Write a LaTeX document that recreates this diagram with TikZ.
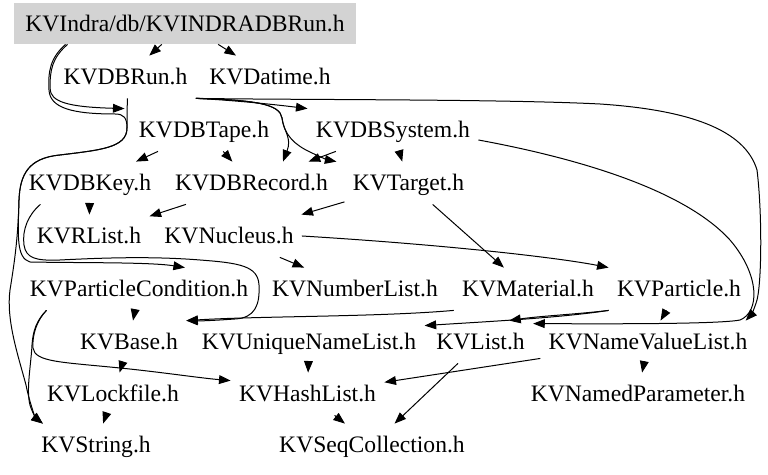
\documentclass[tikz,border=0pt]{standalone}
\usepackage{fontspec}
\setmainfont{Liberation Serif}
\usetikzlibrary{arrows.meta}
\definecolor{rootgray}{RGB}{211,211,211}
\begin{document}
\begin{tikzpicture}[x=0.5bp,y=-0.5bp,
  hdr/.style={inner xsep=4bp, inner ysep=0pt, minimum height=21bp, text height=9.4bp, text depth=1.6bp, font=\fontsize{11.8bp}{14bp}\selectfont},
  arr/.style={-{Triangle[length=5.8bp,width=4.4bp]}, line width=0.5bp, black},
  ]
\useasboundingbox (0,0) rectangle (768,475);
% nodes
\node[hdr, fill=rootgray, minimum width=171bp, minimum height=20.5bp] (indra) at (185,23.5) {KVIndra/db/KVINDRADBRun.h};
\node[hdr] (run) at (125.5,77) {KVDBRun.h};
\node[hdr] (datime) at (270,77) {KVDatime.h};
\node[hdr] (tape) at (204,130) {KVDBTape.h};
\node[hdr] (system) at (393,130) {KVDBSystem.h};
\node[hdr] (key) at (90,183) {KVDBKey.h};
\node[hdr] (record) at (251.5,183) {KVDBRecord.h};
\node[hdr] (target) at (408.5,183) {KVTarget.h};
\node[hdr] (rlist) at (89,236) {KVRList.h};
\node[hdr] (nucleus) at (229,236) {KVNucleus.h};
\node[hdr] (pcond) at (139,289) {KVParticleCondition.h};
\node[hdr] (numlist) at (355,289) {KVNumberList.h};
\node[hdr] (material) at (528,289) {KVMaterial.h};
\node[hdr] (particle) at (679,289) {KVParticle.h};
\node[hdr] (base) at (129,342) {KVBase.h};
\node[hdr] (unl) at (309,342) {KVUniqueNameList.h};
\node[hdr] (list) at (480.5,342) {KVList.h};
\node[hdr] (nvl) at (648,342) {KVNameValueList.h};
\node[hdr] (lock) at (113,394) {KVLockfile.h};
\node[hdr] (hash) at (307.5,394) {KVHashList.h};
\node[hdr] (npar) at (638,394) {KVNamedParameter.h};
\node[hdr] (string) at (96,445) {KVString.h};
\node[hdr] (seq) at (372,445) {KVSeqCollection.h};
% edges
\draw[arr] (indra) -- (run);
\draw[arr] (indra) -- (datime);
\draw[arr] ([xshift=27bp]indra.south west) .. controls (52,58) and (50,70) .. (50,88)
  .. controls (50,102) and (68,107) .. ([xshift=-3bp]tape.north west);
\draw[arr] ([xshift=26bp]indra.south west) .. controls (50,58) and (48,72) .. (49,90)
  .. controls (50,108) and (72,114) .. (115,114) .. controls (124,114) and (127,118) .. (127,128)
  .. controls (127,148) and (100,150) .. (60,155) .. controls (28,158) and (20,175) .. (19,200)
  .. controls (18,235) and (16,258) .. (30,262) .. controls (80,263) and (150,262) .. ([xshift=23bp]pcond.north);
\draw[arr] ([xshift=1bp]run.south) .. controls (127,110) and (127,118) .. (127,128)
  .. controls (127,148) and (100,150) .. (60,155) .. controls (28,158) and (20,175) .. (19,200)
  .. controls (18,240) and (14,265) .. (10,290) .. controls (6,320) and (18,355) .. (26,385)
  .. controls (30,405) and (36,418) .. ([xshift=5bp]string.north west);
\draw[arr] (run.south east) .. controls (230,100) and (270,104) .. (system.north west);
\draw[arr] (run.south east) .. controls (255,100) and (280,104) .. (282,118)
  .. controls (284,132) and (292,138) .. ([xshift=15.75bp]record.north);
\draw[arr] (run.south east) .. controls (255,100) and (280,104) .. (282,118)
  .. controls (284,135) and (295,145) .. (310,152) .. controls (318,156) and (328,160) .. ([xshift=-4bp]target.north west);
\draw[arr] (run.south east) .. controls (300,100) and (500,99) .. (600,104)
  .. controls (690,110) and (745,130) .. (757,170) .. controls (762,210) and (762,280) .. (757,300)
  .. controls (754,310) and (751,315) .. ([xshift=-5bp]nvl.north east);
\draw[arr] ([yshift=-5bp]system.east) .. controls (560,155) and (680,185) .. (730,240)
  .. controls (760,275) and (760,312) .. (740,320) .. controls (720,324) and (620,324) .. ([yshift=-1.5bp]list.north east);
\draw[arr] (tape) -- (key);
\draw[arr] (tape) -- (record);
\draw[arr] (system) -- (record);
\draw[arr] (system) -- (target);
\draw[arr] (key) -- (rlist);
\draw[arr] (record) -- (rlist);
\draw[arr] (target) -- (nucleus);
\draw[arr] (target) -- (material);
\draw[arr] (nucleus.east) .. controls (450,245) and (560,258) .. (particle.north west);
\draw[arr] (nucleus) -- (numlist);
\draw[arr] ([xshift=10bp]key.south west) .. controls (28,215) and (22,230) .. (24,245)
  .. controls (26,258) and (35,261) .. (60,260) .. controls (100,258) and (150,256) .. (200,260)
  .. controls (240,263) and (258,266) .. (259,285) .. controls (260,305) and (255,318) .. (235,319)
  .. controls (220,320) and (205,321) .. (base.north east);
\draw[arr] (pcond) -- (base);
\draw[arr] ([xshift=12.5bp]pcond.south west) .. controls (37,320) and (33,330) .. (32,345)
  .. controls (31,365) and (26,390) .. (30,405) .. controls (33,415) and (38,420) .. ([xshift=5bp]string.north west);
\draw[arr] ([xshift=12.5bp]pcond.south west) .. controls (37,320) and (32,335) .. (33,348)
  .. controls (35,362) and (60,362) .. (120,368) .. controls (160,372) and (200,378) .. ([yshift=-4bp]hash.north west);
\draw[arr] (material.south west) .. controls (380,317) and (260,316) .. (base.north east);
\draw[arr] (particle.south west) .. controls (560,318) and (480,322) .. ([yshift=-2.5bp]unl.north east);
\draw[arr] (particle.south west) .. controls (580,314) and (540,316) .. ([xshift=-12bp]list.north east);
\draw[arr] (particle) -- (nvl);
\draw[arr] (base) -- (lock);
\draw[arr] (lock) -- (string);
\draw[arr] (unl) -- (hash);
\draw[arr] (nvl) -- (hash);
\draw[arr] (nvl) -- (npar);
\draw[arr] (list) -- (seq);
\draw[arr] (hash) -- (seq);
\end{tikzpicture}
\end{document}
